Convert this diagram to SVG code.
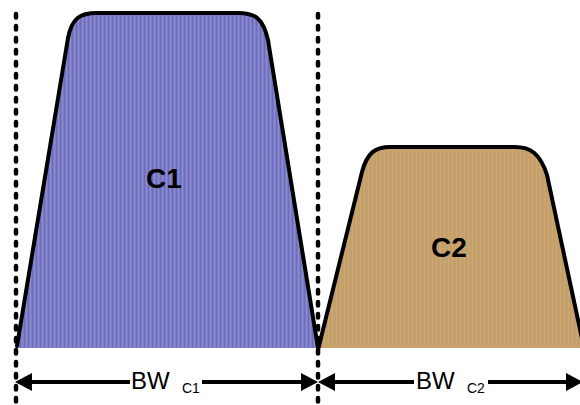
<svg xmlns="http://www.w3.org/2000/svg" xmlns:xlink="http://www.w3.org/1999/xlink" width="580" height="405" viewBox="0 0 580 405">
<style>
.outline{fill:none;stroke:#000;stroke-width:4;stroke-linejoin:round;stroke-linecap:round}
.dash{fill:none;stroke:#000;stroke-width:4.5;stroke-dasharray:3.5 8.5;stroke-linecap:round}
.dim{fill:none;stroke:#000;stroke-width:4}
.lbl{font-family:"Liberation Sans",Arial,sans-serif;font-weight:bold;font-size:28px;fill:#000}
.bw{font-family:"Liberation Sans",Arial,sans-serif;font-size:24px;fill:#000}
.sub{font-family:"Liberation Sans",Arial,sans-serif;font-size:14px;fill:#000}
</style>
<defs>
<pattern id="pBlue" width="4" height="4" patternUnits="userSpaceOnUse">
<rect width="4" height="4" fill="#7c7cc6"/>
<rect x="0" width="1" height="4" fill="#6a6ad4"/>
<rect x="2" width="1" height="4" fill="#8e8eb8"/>
</pattern>
<pattern id="pOrange" width="4" height="4" patternUnits="userSpaceOnUse">
<rect width="4" height="4" fill="#c8a26c"/>
<rect x="0" width="1" height="4" fill="#d8a458"/>
<rect x="2" width="1" height="4" fill="#b49e84"/>
</pattern>
<path id="ah" d="M0,0 L-17,-9 L-17,9 Z" fill="#000"/>
</defs>
<rect width="580" height="405" fill="#fff"/>

<g id="C1">
<path d="M17,348 L68,38 C72,18 80,13 97,13 L238,13 C255,13 263,18 268,40 L318,348 Z" fill="url(#pBlue)"/>
<path class="outline" d="M17,346 L68,38 C72,18 80,13 97,13 L238,13 C255,13 263,18 268,40 L318,348"/>
<text class="lbl" x="146" y="188">C1</text>
</g>

<g id="C2">
<path d="M318,348 L362,172 C367,153 375,147 390,147 L515,147 C530,147 540,153 547,175 L584,348 Z" fill="url(#pOrange)"/>
<path class="outline" d="M318,350 L362,172 C367,153 375,147 390,147 L515,147 C530,147 540,153 547,175 L584,348"/>
<text class="lbl" x="431" y="257">C2</text>
</g>

<g id="connectors">
<line class="dash" x1="16" y1="14" x2="16" y2="405"/>
<line class="dash" x1="318" y1="14" x2="318" y2="405"/>
<line class="dim" x1="25" y1="382" x2="130" y2="382"/>
<line class="dim" x1="202" y1="382" x2="308" y2="382"/>
<use xlink:href="#ah" transform="translate(15,382) rotate(180)"/>
<use xlink:href="#ah" transform="translate(318,382)"/>
<line class="dim" x1="328" y1="382" x2="414" y2="382"/>
<line class="dim" x1="488" y1="382" x2="572" y2="382"/>
<use xlink:href="#ah" transform="translate(318,382) rotate(180)"/>
<use xlink:href="#ah" transform="translate(583,382)"/>
</g>

<g id="labels">
<text class="bw" x="131" y="389">BW</text>
<text class="sub" x="182" y="393">C1</text>
<text class="bw" x="416" y="389">BW</text>
<text class="sub" x="467" y="393">C2</text>
</g>
</svg>
